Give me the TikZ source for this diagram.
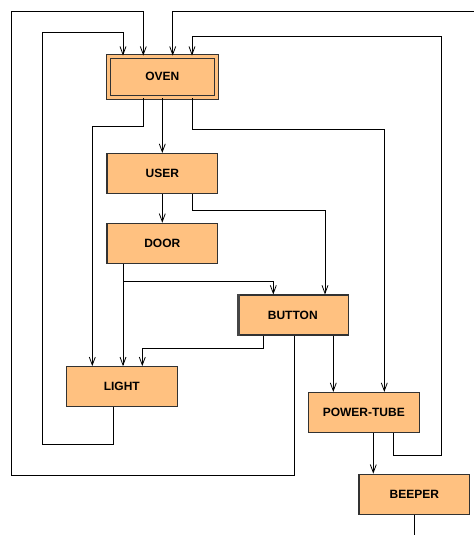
\documentclass[tikz,border=0pt]{standalone}
\usepackage{fontspec}
\setmainfont{Liberation Sans}
\usetikzlibrary{arrows.meta,calc}
\definecolor{boxfill}{RGB}{255,193,128}
\definecolor{boxline}{RGB}{50,50,50}
\begin{document}
\begin{tikzpicture}[x=0.75pt,y=-0.75pt,
  every node/.style={font=\bfseries\fontsize{9}{10}\selectfont},
  box/.style={rectangle,draw=boxline,fill=boxfill,line width=0.8pt,
    minimum width=83pt,minimum height=30pt,inner sep=0pt},
  mainbox/.style={box,minimum width=81pt,minimum height=31pt,
    double=boxfill,double distance=2.2pt},
  arr/.style={-{Straight Barb[length=6pt,width=4.5pt]},line width=0.6pt},
  wire/.style={line width=0.6pt}]
\useasboundingbox (0,0) rectangle (474,535);
\clip (0,0) rectangle (474,535);
\node[mainbox] (oven) at (162.3,76.8) {OVEN};
\node[box] (user) at (162.3,173.5) {USER};
\node[box] (door) at (162.3,243.3) {DOOR};
\node[box] (button) at (292.8,315) {BUTTON};
\node[box] (light) at (121.8,386.7) {LIGHT};
\node[box] (tube) at (363.8,412.5) {POWER-TUBE};
\node[box] (beeper) at (414.3,494.2) {BEEPER};
\draw[line width=2.2pt,boxline!90] ($(button.north west)+(1.6,0)$) -- ($(button.south west)+(1.6,0)$);
\coordinate (topin) at (480,11.7);
\coordinate (beepout) at (414,545);
\draw[arr] (oven) -- (user);
\draw[arr] ($(oven.south)+(-19,0)$) -- ++(0,28.7) -| ($(light.north)+(-29.5,0)$);
\draw[arr] ($(oven.south)+(29.7,0)$) -- ++(0,31.7) -| ($(tube.north)+(20.5,0)$);
\draw[arr] (user) -- (door);
\draw[arr] ($(user.south)+(30,0)$) -- ++(0,16.7) -| ($(button.north)+(32.2,0)$);
\draw[arr] ($(door.south)+(-39.3,0)$) coordinate (dj) -- (dj |- light.north);
\draw[arr] ($(dj)+(0,17.4)$) -| ($(button.north)+(-19.5,0)$);
\draw[arr] ($(button.south)+(-29.5,0)$) -- ++(0,12.7) -| ($(light.north)+(20.5,0)$);
\draw[arr] ($(button.south)+(1.2,0)$) |- (11.7,475) -- (11.7,11.7) -| ($(oven.north)+(-19,0)$);
\draw[arr] ($(button.south)+(40.5,0)$) -- ($(tube.north)+(-30.5,0)$);
\draw[arr] ($(light.south)+(-8.5,0)$) |- (42,444.3) -- (42,32.7) -| ($(oven.north)+(-39.3,0)$);
\draw[arr] ($(tube.south)+(29.9,0)$) |- (441,455.7) -- (441,36) -| ($(oven.north)+(29.7,0)$);
\draw[arr] ($(tube.south)+(9.5,0)$) -- ($(beeper.north)+(-41,0)$);
\draw[arr] (topin) -| ($(oven.north)+(10.4,0)$);
\draw[wire] ($(beeper.south)+(-0.3,0)$) -- (beepout);
\end{tikzpicture}
\end{document}
